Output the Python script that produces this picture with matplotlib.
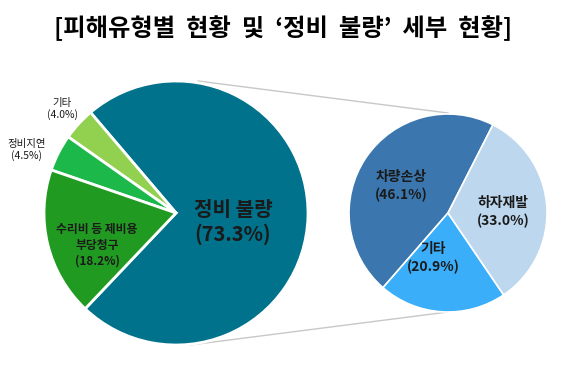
import matplotlib
matplotlib.use("Agg")
import matplotlib.pyplot as plt

plt.rcParams['font.family'] = ['Noto Sans CJK KR', 'DejaVu Sans']

# left pie: damage type
left_labels = ['정비 불량', '기타', '정비지연', '수리비 등 제비용\n부당청구']
left_values = [73.3, 4.0, 4.5, 18.2]
left_colors = ['#00728C', '#92D050', '#1DB84A', '#219A21']

# right pie: detail of '정비 불량'
right_labels = ['차량손상', '기타', '하자재발']
right_values = [46.1, 20.9, 33.0]
right_colors = ['#3B77AE', '#3BAEFA', '#BDD7EE']

W, H = 565, 366
fig = plt.figure(figsize=(W / 100, H / 100), dpi=100)
ax = fig.add_axes([0, 0, 1, 1])

lc, lr = (176, 153), 132
rc, rr = (448, 153), 99

# connector lines (drawn first, behind pies)
ax.plot([198, 448], [H - 81, H - 113], color='#C8C8C8', lw=1, zorder=0)
ax.plot([190, 448], [H - 345, H - 312], color='#C8C8C8', lw=1, zorder=0)

ax.pie(left_values, colors=left_colors, startangle=226.5, center=lc, radius=lr,
       wedgeprops=dict(edgecolor='white', linewidth=2), frame=True)
ax.pie(right_values, colors=right_colors, startangle=63, center=rc, radius=rr,
       wedgeprops=dict(edgecolor='white', linewidth=1.2), frame=True)
ax.set_xlim(0, W)
ax.set_ylim(0, H)
ax.set_aspect('equal')
ax.axis('off')

txt = '#1A1A1A'
ax.text(233, H - 222, '{}\n({}%)'.format(left_labels[0], left_values[0]),
        ha='center', va='center', fontsize=14.5, fontweight='bold', color=txt,
        linespacing=1.15)
ax.text(97, H - 245, '{}\n({}%)'.format(left_labels[3], left_values[3]),
        ha='center', va='center', fontsize=8.5, fontweight='bold', color=txt,
        linespacing=1.3)
ax.text(27, H - 150, '{}\n({}%)'.format(left_labels[2], left_values[2]),
        ha='center', va='center', fontsize=7.5, color=txt, linespacing=1.2)
ax.text(62, H - 109, '{}\n({}%)'.format(left_labels[1], left_values[1]),
        ha='center', va='center', fontsize=7.5, color=txt, linespacing=1.2)

ax.text(401, H - 186, '{}\n({}%)'.format(right_labels[0], right_values[0]),
        ha='center', va='center', fontsize=10, fontweight='bold', color=txt,
        linespacing=1.3)
ax.text(503, H - 212, '{}\n({}%)'.format(right_labels[2], right_values[2]),
        ha='center', va='center', fontsize=10, fontweight='bold', color=txt,
        linespacing=1.3)
ax.text(433, H - 258, '{}\n({}%)'.format(right_labels[1], right_values[1]),
        ha='center', va='center', fontsize=10, fontweight='bold', color=txt,
        linespacing=1.3)

ax.text(W / 2 + 1, H - 28, "[피해유형별  현황  및  ‘정비  불량’  세부  현황]",
        ha='center', va='center', fontsize=17.5, fontweight='heavy', color='black')

fig.savefig('out.png', dpi=100, facecolor='white')
